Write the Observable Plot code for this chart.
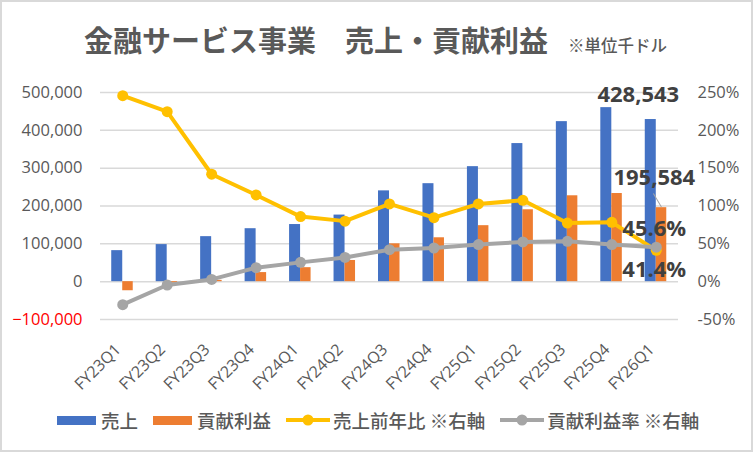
<!DOCTYPE html>
<html><head><meta charset="utf-8">
<script src="https://cdn.jsdelivr.net/npm/d3@7"></script>
<script src="https://cdn.jsdelivr.net/npm/@observablehq/plot@0.6"></script>
<style>
body{margin:0;background:#fff;}
#wrap{position:relative;width:753px;height:452px;overflow:hidden;font-family:"Noto Sans CJK JP",sans-serif;background:#fff;}
#frame{position:absolute;left:0;top:0;width:753px;height:452px;box-sizing:border-box;border:2px solid #d9d9d9;pointer-events:none;}
#title{position:absolute;left:84px;top:25px;font-size:29px;line-height:29px;font-weight:700;color:#595959;white-space:nowrap;}
#title span{font-size:16.5px;font-weight:500;margin-left:20px;}
#chart{position:absolute;left:0;top:0;}
#legend{position:absolute;left:57px;top:410px;height:20px;display:flex;align-items:center;font-size:18.5px;line-height:20px;font-weight:500;color:#595959;white-space:nowrap;}
#legend .item{display:flex;align-items:center;margin-right:15px;}
#legend .bar{display:inline-block;width:39px;height:9px;margin-right:5px;}
#legend svg{margin-right:3px;}
</style>
</head><body>
<div id="wrap">
  <div id="chart"></div>
  <div id="title">金融サービス事業　売上・貢献利益<span>※単位千ドル</span></div>
  <div id="legend"></div>
  <div id="frame"></div>
</div>
<script>
const categories = ["FY23Q1","FY23Q2","FY23Q3","FY23Q4","FY24Q1","FY24Q2","FY24Q3","FY24Q4","FY25Q1","FY25Q2","FY25Q3","FY25Q4","FY26Q1"];
const revenue = [82000, 98000, 119000, 140000, 151000, 176000, 240000, 259000, 304000, 365000, 423000, 460000, 428543];
const contribution = [-24000, -4000, 3500, 24000, 37000, 56000, 100000, 116000, 148000, 190000, 227000, 233000, 195584];
const revenueYoY = [245.8, 224.7, 142, 114.6, 86, 80, 102.7, 84.6, 102.7, 107.5, 77.5, 78.4, 41.4];
const contributionMargin = [-30.4, -4.4, 3, 18.5, 25.5, 32, 42.3, 44.5, 49, 52.5, 53.3, 49, 45.6];
const leftTicks = [-100000, 0, 100000, 200000, 300000, 400000, 500000];
const rightTicks = [-50, 0, 50, 100, 150, 200, 250];
const seriesNames = ["売上", "貢献利益", "売上前年比 ※右軸", "貢献利益率 ※右軸"];
const seriesColors = ["#4472C4", "#ED7D31", "#FFC000", "#A5A5A5"];

const pctToLeft = p => p * 2000; // right axis: 250% ↔ 500,000
const rows = categories.map((c, i) => ({
  cat: c, rev: revenue[i], con: contribution[i],
  yoy: revenueYoY[i], mar: contributionMargin[i]
}));
const last = rows[rows.length - 1];
const bw = (753 - 100 - 75) / categories.length;
const half = bw / 2;

const numFont = "Open Sans";
const plot = Plot.plot({
  width: 753, height: 400,
  marginLeft: 100, marginRight: 75, marginTop: 92, marginBottom: 81,
  x: {type: "band", domain: categories, padding: 0, round: false, axis: null},
  y: {domain: [-100000, 500000], axis: null},
  style: {background: "transparent", fontFamily: numFont},
  marks: [
    Plot.gridY(leftTicks, {stroke: "#d9d9d9", strokeOpacity: 1, strokeWidth: 1.5}),
    Plot.barY(rows, {x: "cat", y: "rev", fill: seriesColors[0], insetLeft: half - 11, insetRight: half}),
    Plot.barY(rows, {x: "cat", y: "con", fill: seriesColors[1], insetLeft: half, insetRight: half - 10.5}),
    Plot.line(rows, {x: "cat", y: d => pctToLeft(d.yoy), stroke: seriesColors[2], strokeWidth: 4}),
    Plot.dot(rows, {x: "cat", y: d => pctToLeft(d.yoy), fill: seriesColors[2], r: 5.5}),
    Plot.line(rows, {x: "cat", y: d => pctToLeft(d.mar), stroke: seriesColors[3], strokeWidth: 4}),
    Plot.dot(rows, {x: "cat", y: d => pctToLeft(d.mar), fill: seriesColors[3], r: 5.5}),
    Plot.text(categories, {x: d => d, frameAnchor: "bottom", rotate: -45, textAnchor: "end", dx: -1, dy: 31, fontSize: 16, fill: "#595959"}),
    Plot.text(leftTicks.filter(v => v >= 0), {y: d => d, frameAnchor: "left", dx: -18, textAnchor: "end", text: d => d3.format(",")(d), fontSize: 16.5, fill: "#595959"}),
    Plot.text(leftTicks.filter(v => v < 0), {y: d => d, frameAnchor: "left", dx: -18, textAnchor: "end", text: d => d3.format(",")(d), fontSize: 16.5, fill: "#FF0000"}),
    Plot.text(rightTicks, {y: d => pctToLeft(d), frameAnchor: "right", dx: 19, textAnchor: "start", text: d => d + "%", fontSize: 16.5, fill: "#595959"}),
    Plot.vector([last], {x: "cat", y: "con", dx: 5, dy: -1, length: 15, rotate: -31, anchor: "start", stroke: "#a6a6a6", strokeWidth: 1,
      shape: {draw(ctx, l) { ctx.moveTo(0, 0); ctx.lineTo(0, -l); }}}),
    Plot.text([last], {x: "cat", y: "rev", text: d => d3.format(",")(d.rev), dx: -18, dy: -25, fontSize: 22, fontWeight: "bold", fill: "#404040"}),
    Plot.text([last], {x: "cat", y: "con", text: d => d3.format(",")(d.con), dx: -2, dy: -30, fontSize: 22, fontWeight: "bold", fill: "#404040"}),
    Plot.text([last], {x: "cat", y: d => pctToLeft(d.mar), text: d => d.mar.toFixed(1) + "%", dx: -2, dy: -18.5, fontSize: 22, fontWeight: "bold", fill: "#404040"}),
    Plot.text([last], {x: "cat", y: d => pctToLeft(d.yoy), text: d => d.yoy.toFixed(1) + "%", dx: -2, dy: 20, fontSize: 22, fontWeight: "bold", fill: "#404040"})
  ]
});
document.getElementById("chart").appendChild(plot);

const legend = document.getElementById("legend");
seriesNames.forEach((name, i) => {
  const item = document.createElement("div");
  item.className = "item";
  if (i < 2) {
    const sw = document.createElement("span");
    sw.className = "bar";
    sw.style.background = seriesColors[i];
    item.appendChild(sw);
  } else {
    const ns = "http://www.w3.org/2000/svg";
    const svg = document.createElementNS(ns, "svg");
    svg.setAttribute("width", 44); svg.setAttribute("height", 14);
    const ln = document.createElementNS(ns, "line");
    ln.setAttribute("x1", 0); ln.setAttribute("x2", 44); ln.setAttribute("y1", 7); ln.setAttribute("y2", 7);
    ln.setAttribute("stroke", seriesColors[i]); ln.setAttribute("stroke-width", 4);
    const c = document.createElementNS(ns, "circle");
    c.setAttribute("cx", 22); c.setAttribute("cy", 7); c.setAttribute("r", 5.5); c.setAttribute("fill", seriesColors[i]);
    svg.appendChild(ln); svg.appendChild(c);
    item.appendChild(svg);
  }
  const t = document.createElement("span");
  t.textContent = name;
  item.appendChild(t);
  legend.appendChild(item);
});
</script>
</body></html>
